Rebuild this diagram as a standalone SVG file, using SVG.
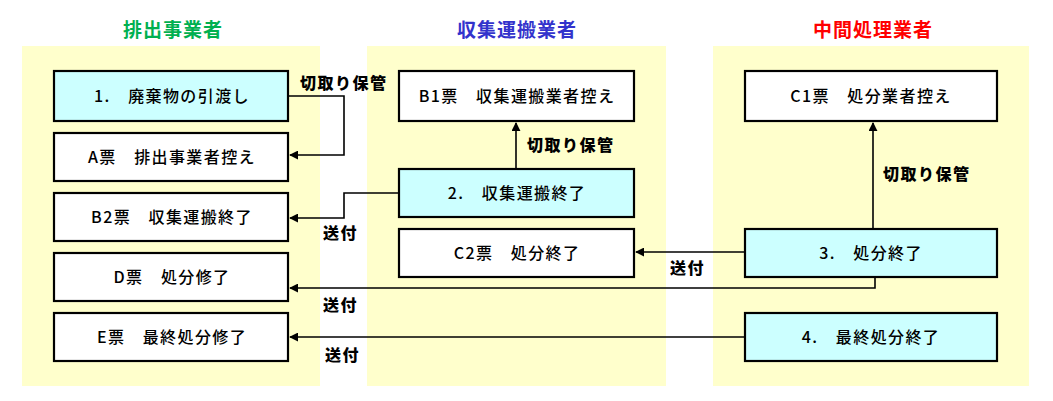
<svg xmlns="http://www.w3.org/2000/svg" width="1053" height="401" viewBox="0 0 1053 401">
<style>
.bg{fill:#FFFFCC;}
.box{fill:#FFFFFF;stroke:#000;stroke-width:2.2;}
.act{fill:#CCFFFF;stroke:#000;stroke-width:2.2;}
.t{font-family:"Noto Sans CJK JP","Noto Sans",sans-serif;font-size:16px;font-weight:500;letter-spacing:1.4px;fill:#000;text-anchor:middle;}
.h{font-family:"Noto Sans CJK JP","Noto Sans",sans-serif;font-size:19px;font-weight:bold;letter-spacing:1px;text-anchor:middle;}
.lb{font-family:"Noto Sans CJK JP","Noto Sans",sans-serif;font-size:16px;font-weight:900;letter-spacing:1.5px;fill:#000;}
.ln{fill:none;stroke:#000;stroke-width:1.6;}
</style>
<defs>
<marker id="ah" viewBox="0 0 10 10" refX="9" refY="5" markerWidth="9" markerHeight="9" markerUnits="userSpaceOnUse" orient="auto">
<path d="M0,0 L10,5 L0,10 Z" fill="#000"/>
</marker>
</defs>
<rect width="1053" height="401" fill="#FFFFFF"/>
<g id="lanes">
<rect class="bg" x="22" y="46" width="298" height="340"/>
<rect class="bg" x="367" y="46" width="299" height="340"/>
<rect class="bg" x="713" y="46" width="316" height="340"/>
<text class="h" x="173" y="37" fill="#00B050">排出事業者</text>
<text class="h" x="517" y="37" fill="#3333CC">収集運搬業者</text>
<text class="h" x="873" y="37" fill="#FF0000">中間処理業者</text>
</g>
<g id="connectors">
<polyline class="ln" points="288,96 344,96 344,155 290,155" marker-end="url(#ah)"/>
<line class="ln" x1="516" y1="169" x2="516" y2="123" marker-end="url(#ah)"/>
<polyline class="ln" points="399,193 344,193 344,218 290,218" marker-end="url(#ah)"/>
<line class="ln" x1="745" y1="252" x2="636" y2="252" marker-end="url(#ah)"/>
<polyline class="ln" points="875,277 875,288 290,288" marker-end="url(#ah)"/>
<line class="ln" x1="873" y1="229" x2="873" y2="123" marker-end="url(#ah)"/>
<line class="ln" x1="745" y1="337" x2="290" y2="337" marker-end="url(#ah)"/>
<text class="lb" x="300" y="89">切取り保管</text>
<text class="lb" x="527" y="151">切取り保管</text>
<text class="lb" x="883" y="180">切取り保管</text>
<text class="lb" x="323" y="239">送付</text>
<text class="lb" x="670" y="274">送付</text>
<text class="lb" x="323" y="311">送付</text>
<text class="lb" x="325" y="361">送付</text>
</g>
<g id="n1"><rect class="act" x="54" y="71" width="234" height="50"/><text class="t" x="172" y="102">1.　廃棄物の引渡し</text></g>
<g id="nA"><rect class="box" x="54" y="133" width="234" height="48"/><text class="t" x="172" y="163">A票　排出事業者控え</text></g>
<g id="nB2"><rect class="box" x="54" y="193" width="234" height="48"/><text class="t" x="172" y="223">B2票　収集運搬終了</text></g>
<g id="nD"><rect class="box" x="54" y="253" width="234" height="48"/><text class="t" x="172" y="283">D票　処分修了</text></g>
<g id="nE"><rect class="box" x="54" y="313" width="234" height="48"/><text class="t" x="172" y="343">E票　最終処分修了</text></g>
<g id="nB1"><rect class="box" x="399" y="71" width="235" height="50"/><text class="t" x="517" y="102">B1票　収集運搬業者控え</text></g>
<g id="n2"><rect class="act" x="399" y="169" width="235" height="48"/><text class="t" x="517" y="199">2.　収集運搬終了</text></g>
<g id="nC2"><rect class="box" x="399" y="229" width="235" height="48"/><text class="t" x="517" y="259">C2票　処分終了</text></g>
<g id="nC1"><rect class="box" x="745" y="71" width="252" height="50"/><text class="t" x="871" y="102">C1票　処分業者控え</text></g>
<g id="n3"><rect class="act" x="745" y="229" width="252" height="48"/><text class="t" x="871" y="259">3.　処分終了</text></g>
<g id="n4"><rect class="act" x="745" y="313" width="252" height="48"/><text class="t" x="871" y="343">4.　最終処分終了</text></g>
</svg>
